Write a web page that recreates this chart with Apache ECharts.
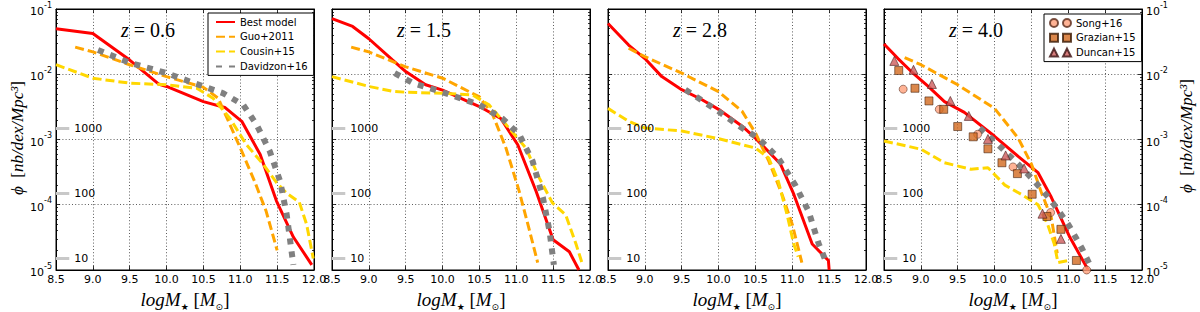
<!DOCTYPE html>
<html><head><meta charset="utf-8">
<script src="https://cdn.jsdelivr.net/npm/echarts@6/dist/echarts.min.js"></script>
<style>html,body{margin:0;padding:0;background:#fff}#c{width:1200px;height:312px}</style>
</head><body><div id="c"></div>
<script>
// ---------- tick labels / categories ----------
const panelTitles = ['0.6', '1.5', '2.8', '4.0'];
const xMin = 8.5, xMax = 12.0, xStep = 0.5;
const yMin = 1e-5, yMax = 1e-1;
const countLabels = ['1000', '100', '10'];
const countPhi = [1.5e-3, 1.5e-4, 1.5e-5];
const countLineX = [8.5, 8.68];

// ---------- z = 0.6 ----------
const best_z06 = [[8.5,5.0e-2],[9.0,4.2e-2],[9.5,1.65e-2],[9.89,7.1e-3],[10.0,6.5e-3],[10.5,3.8e-3],[10.79,3.1e-3],[11.02,1.9e-3],[11.27,5.9e-4],[11.49,1.15e-4],[11.72,3.2e-5],[11.97,1.2e-5]];
const guo_z06 = [[8.76,2.6e-2],[9.0,2.2e-2],[9.5,1.4e-2],[10.0,9.2e-3],[10.5,6.3e-3],[10.7,4.3e-3],[10.88,1.5e-3],[11.02,6.6e-4],[11.2,2.2e-4],[11.35,8.0e-5],[11.5,2.0e-5]];
const cousin_z06 = [[8.5,1.4e-2],[9.0,8.7e-3],[9.5,7.3e-3],[10.0,6.9e-3],[10.41,6.1e-3],[10.63,4.3e-3],[10.86,2.1e-3],[11.08,8.4e-4],[11.31,4.2e-4],[11.49,2.2e-4],[11.63,1.5e-4],[11.8,1.1e-4],[11.9,5.0e-5],[11.99,1.5e-5]];
const davidzon_z06 = [[9.07,2.35e-2],[9.5,1.5e-2],[10.0,1.04e-2],[10.5,6.5e-3],[10.77,5.1e-3],[11.04,3.4e-3],[11.22,1.7e-3],[11.4,6.6e-4],[11.54,2.3e-4],[11.63,7.0e-5],[11.72,1.2e-5]];

// ---------- z = 1.5 ----------
const best_z15 = [[8.5,7.1e-2],[8.78,5.4e-2],[9.0,3.5e-2],[9.32,1.66e-2],[9.5,1.1e-2],[9.77,6.9e-3],[10.0,5.7e-3],[10.5,3.2e-3],[10.79,2.1e-3],[11.02,8.3e-4],[11.27,1.6e-4],[11.5,2.9e-5],[11.72,1.9e-5],[11.85,1.0e-5]];
const guo_z15 = [[8.76,2.6e-2],[9.0,2.2e-2],[9.5,1.3e-2],[10.0,8.7e-3],[10.5,4.5e-3],[10.68,2.4e-3],[10.86,7.4e-4],[11.04,1.6e-4],[11.18,4.0e-5],[11.29,1.3e-5]];
const cousin_z15 = [[8.5,9.2e-3],[9.0,6.5e-3],[9.32,5.5e-3],[9.5,5.3e-3],[10.0,5.1e-3],[10.41,4.8e-3],[10.63,3.4e-3],[10.86,1.7e-3],[11.13,7.4e-4],[11.31,2.6e-4],[11.49,1.07e-4],[11.67,7.0e-5],[11.81,2.5e-5],[11.9,1.2e-5]];
const davidzon_z15 = [[9.35,1.04e-2],[9.6,7.3e-3],[10.0,5.3e-3],[10.5,3.4e-3],[10.81,2.1e-3],[11.04,1.2e-3],[11.22,4.7e-4],[11.36,1.3e-4],[11.45,4.0e-5],[11.51,1.2e-5]];

// ---------- z = 2.8 ----------
const best_z28 = [[8.5,6.0e-2],[8.78,2.8e-2],[9.0,1.74e-2],[9.23,9.2e-3],[9.5,5.8e-3],[9.77,4.1e-3],[10.0,2.9e-3],[10.32,1.6e-3],[10.5,1.05e-3],[10.84,4.2e-4],[11.02,1.45e-4],[11.27,2.5e-5],[11.49,1.4e-5],[11.5,1.0e-5]];
const guo_z28 = [[8.78,2.5e-2],[9.0,1.86e-2],[9.5,1.04e-2],[10.0,5.4e-3],[10.32,2.7e-3],[10.5,1.26e-3],[10.68,4.7e-4],[10.86,1.45e-4],[11.0,5.0e-5],[11.13,1.3e-5]];
const cousin_z28 = [[8.5,3.0e-3],[8.78,1.9e-3],[9.0,1.5e-3],[9.5,1.35e-3],[10.0,1.03e-3],[10.5,7.4e-4],[10.68,5.2e-4],[10.81,2.3e-4],[10.93,7.0e-5],[11.02,2.5e-5],[11.08,1.6e-5]];
const davidzon_z28 = [[9.55,5.8e-3],[10.0,2.7e-3],[10.32,1.5e-3],[10.54,1.05e-3],[10.81,5.2e-4],[11.04,2.0e-4],[11.22,8.0e-5],[11.36,2.5e-5],[11.45,1.4e-5]];

// ---------- z = 4.0 ----------
const best_z40 = [[8.5,2.9e-2],[8.69,1.74e-2],[8.87,1.1e-2],[9.1,6.5e-3],[9.32,3.8e-3],[9.59,2.6e-3],[10.0,1.12e-3],[10.32,5.5e-4],[10.59,3.1e-4],[10.77,1.3e-4],[11.02,3.2e-5],[11.27,1.0e-5]];
const guo_z40 = [[8.78,1.8e-2],[9.0,1.4e-2],[9.5,6.9e-3],[10.0,3.0e-3],[10.32,1.05e-3],[10.5,4.2e-4],[10.63,1.6e-4],[10.77,6.3e-5],[10.85,1.8e-5]];
const cousin_z40 = [[8.5,9.5e-4],[9.0,7.1e-4],[9.32,4.4e-4],[9.68,3.5e-4],[9.91,3.7e-4],[10.14,2.0e-4],[10.36,1.45e-4],[10.59,1.0e-4],[10.72,5.0e-5],[10.81,2.5e-5],[10.86,1.3e-5],[11.0,1.4e-5]];
const davidzon_z40 = [[9.8,1.5e-3],[10.05,8.3e-4],[10.32,4.2e-4],[10.54,2.3e-4],[10.77,1.15e-4],[11.0,5.0e-5],[11.18,2.2e-5],[11.31,1.1e-5]];
const song_z40 = [[8.76,5.9e-3],[9.25,2.9e-3],[9.77,1.2e-3],[10.25,3.8e-4],[10.76,7.6e-5],[11.25,1.0e-5]];
const grazian_z40 = [[8.70,1.14e-2],[8.92,6.1e-3],[9.11,3.9e-3],[9.31,2.9e-3],[9.5,1.58e-3],[9.71,1.1e-3],[9.91,7.2e-4],[10.1,4.4e-4],[10.31,3.0e-4],[10.51,1.45e-4],[10.71,6.6e-5],[10.9,4.2e-5],[11.11,1.4e-5]];
const duncan_z40 = [[8.64,1.6e-2],[8.9,1.17e-2],[9.15,7.1e-3],[9.4,3.9e-3],[9.65,2.3e-3],[9.91,1.02e-3],[10.15,5.7e-4],[10.4,3.6e-4],[10.65,7.3e-5],[10.9,3.0e-5]];

// ---------- build ----------
const panels = [
  {best: best_z06, guo: guo_z06, cousin: cousin_z06, dav: davidzon_z06},
  {best: best_z15, guo: guo_z15, cousin: cousin_z15, dav: davidzon_z15},
  {best: best_z28, guo: guo_z28, cousin: cousin_z28, dav: davidzon_z28},
  {best: best_z40, guo: guo_z40, cousin: cousin_z40, dav: davidzon_z40}
];
const gLeft = [56, 332, 608, 884];
const gTop = 9, gW = 258, gH = 261;

const SANS = 'DejaVu Sans';
const SERIF = 'Liberation Serif';
const minorVals = [];
for (let e = -5; e <= -2; e++) for (let m = 2; m <= 9; m++) minorVals.push(m * Math.pow(10, e));

const grids = [], xAxes = [], yAxes = [], series = [], graphics = [];
const gridLine = {show: true, lineStyle: {color: '#333', width: 0.8, type: [1, 2.2]}};
const yLabelRich = {
  b: {fontSize: 11, fontFamily: SANS, color: '#000', lineHeight: 16, verticalAlign: 'bottom'},
  s: {fontSize: 8, fontFamily: SANS, color: '#000', lineHeight: 16, verticalAlign: 'top'}
};
const yFmt = v => '{b|10}{s|' + Math.round(Math.log10(v)) + '}';

for (let i = 0; i < 4; i++) {
  grids.push({left: gLeft[i], top: gTop, width: gW, height: gH, show: true, borderColor: '#000', borderWidth: 1, backgroundColor: '#fff', outerBoundsMode: 'none', containLabel: false});
  xAxes.push({gridIndex: i, type: 'value', position: 'bottom', min: xMin, max: xMax, interval: xStep,
    axisLine: {show: true, lineStyle: {color: '#000', width: 1}},
    axisTick: {show: true, inside: true, length: 4, lineStyle: {color: '#000', width: 0.8}},
    axisLabel: {show: true, margin: 4, color: '#000', fontSize: 11, fontFamily: SANS, formatter: v => v.toFixed(1), showMinLabel: true, showMaxLabel: true, hideOverlap: false},
    splitLine: gridLine});
  xAxes.push({gridIndex: i, type: 'value', position: 'top', min: xMin, max: xMax, interval: xStep,
    axisLine: {show: true, lineStyle: {color: '#000', width: 1}},
    axisTick: {show: true, inside: true, length: 4, lineStyle: {color: '#000', width: 0.8}},
    axisLabel: {show: false}, splitLine: {show: false}});
  yAxes.push({gridIndex: i, type: 'log', logBase: 10, position: 'left', min: yMin, max: yMax,
    axisLine: {show: true, lineStyle: {color: '#000', width: 1}},
    axisTick: {show: true, inside: true, length: 4, lineStyle: {color: '#000', width: 0.8}},
    axisLabel: {show: i === 0, margin: 4, formatter: yFmt, rich: yLabelRich},
    splitLine: gridLine});
  yAxes.push({gridIndex: i, type: 'log', logBase: 10, position: 'right', min: yMin, max: yMax,
    axisLine: {show: true, lineStyle: {color: '#000', width: 1}},
    axisTick: {show: true, inside: true, length: 4, lineStyle: {color: '#000', width: 0.8}},
    axisLabel: {show: i === 3, margin: 4, formatter: yFmt, rich: yLabelRich},
    splitLine: {show: false}});
  ['left', 'right'].forEach(pos => {
    yAxes.push({gridIndex: i, type: 'log', logBase: 10, position: pos, min: yMin, max: yMax,
      axisLine: {show: false},
      axisTick: {show: true, inside: true, length: 2, customValues: minorVals, lineStyle: {color: '#000', width: 0.8}},
      axisLabel: {show: false}, splitLine: {show: false}});
  });

  const P = panels[i];
  const xi = 2 * i, yi = 4 * i;
  series.push({type: 'line', name: 'Best model', xAxisIndex: xi, yAxisIndex: yi, data: P.best, symbol: 'none',
    lineStyle: {color: '#ff0000', width: 3}, itemStyle: {color: '#ff0000'}});
  series.push({type: 'line', name: 'Guo+2011', xAxisIndex: xi, yAxisIndex: yi, data: P.guo, symbol: 'none',
    lineStyle: {color: '#ffa500', width: 3, type: [9, 4]}, itemStyle: {color: '#ffa500'}});
  series.push({type: 'line', name: 'Cousin+15', xAxisIndex: xi, yAxisIndex: yi, data: P.cousin, symbol: 'none',
    lineStyle: {color: '#ffd700', width: 3, type: [9, 4]}, itemStyle: {color: '#ffd700'}});
  series.push({type: 'line', name: 'Davidzon+16', xAxisIndex: xi, yAxisIndex: yi, data: P.dav, symbol: 'none',
    lineStyle: {color: '#808080', width: 6, type: [6, 7], cap: 'butt'}, itemStyle: {color: '#808080'}});
  series.push({type: 'line', name: 'counts' + i, xAxisIndex: xi, yAxisIndex: yi, data: [], silent: true,
    markLine: {silent: true, symbol: ['none', 'none'],
      lineStyle: {color: '#c8c8c8', width: 3, type: 'solid'},
      label: {show: true, position: 'end', distance: 5, color: '#000', fontSize: 11, fontFamily: SANS, formatter: p => p.name},
      emphasis: {disabled: true},
      data: countLabels.map((lab, k) => [{name: lab, coord: [countLineX[0], countPhi[k]]}, {coord: [countLineX[1], countPhi[k]]}])}});

  graphics.push({type: 'text', x: gLeft[i] + 92, y: 30, silent: true,
    style: {text: '{i|z}{n| = ' + panelTitles[i] + '}', align: 'center', verticalAlign: 'middle',
      rich: {i: {fontFamily: SERIF, fontStyle: 'italic', fontSize: 20, fill: '#000'}, n: {fontFamily: SERIF, fontSize: 20, fill: '#000'}}}});
  graphics.push({type: 'text', x: gLeft[i] + gW / 2, y: 299, silent: true,
    style: {text: '{i|logM}{s|★}{n| [}{i|M}{s|⊙}{n|]}', align: 'center', verticalAlign: 'middle',
      rich: {i: {fontFamily: SERIF, fontStyle: 'italic', fontSize: 19, lineHeight: 24, verticalAlign: 'middle', fill: '#000'},
             n: {fontFamily: SERIF, fontSize: 19, lineHeight: 24, verticalAlign: 'middle', fill: '#000'},
             s: {fontFamily: SANS, fontSize: 9, lineHeight: 24, verticalAlign: 'bottom', fill: '#000'}}}});
}

series.push({type: 'scatter', name: 'Song+16', xAxisIndex: 6, yAxisIndex: 12, data: song_z40, symbol: 'circle', symbolSize: 8,
  itemStyle: {color: '#ffa07a', borderColor: '#5a2a1a', borderWidth: 0.7}, z: 5});
series.push({type: 'scatter', name: 'Grazian+15', xAxisIndex: 6, yAxisIndex: 12, data: grazian_z40, symbol: 'rect', symbolSize: 8,
  itemStyle: {color: '#d2691e', borderColor: '#3a1a05', borderWidth: 0.7}, z: 5});
series.push({type: 'scatter', name: 'Duncan+15', xAxisIndex: 6, yAxisIndex: 12, data: duncan_z40, symbol: 'triangle', symbolSize: 9,
  itemStyle: {color: '#cd5c5c', borderColor: '#3a1010', borderWidth: 0.7}, z: 5});

const yTitleRich = {
  i: {fontFamily: SERIF, fontStyle: 'italic', fontSize: 17, fill: '#000'},
  n: {fontFamily: SERIF, fontSize: 17, fill: '#000'}
};
const yTitleText = '{i|ϕ}{n|  [}{i|nb/dex/Mpc³}{n|]}';
graphics.push({type: 'text', x: 17, y: 138, rotation: Math.PI / 2, silent: true,
  style: {text: yTitleText, align: 'center', verticalAlign: 'middle', rich: yTitleRich}});
graphics.push({type: 'text', x: 1186, y: 136, rotation: Math.PI / 2, silent: true,
  style: {text: yTitleText, align: 'center', verticalAlign: 'middle', rich: yTitleRich}});

const legendText = {color: '#000', fontSize: 10, fontFamily: SANS, lineHeight: 14};
const option = {
  animation: false,
  backgroundColor: '#fff',
  grid: grids, xAxis: xAxes, yAxis: yAxes, series: series, graphic: graphics,
  legend: [
    {show: true, orient: 'vertical', left: 208, top: 13, itemWidth: 19, itemHeight: 10, itemGap: 0.8,
     padding: [2, 6, 2, 7], borderColor: '#000', borderWidth: 1, backgroundColor: '#fff', borderRadius: 0,
     selectedMode: false, textStyle: legendText,
     itemStyle: {color: 'rgba(0,0,0,0)', borderWidth: 0, opacity: 0},
     data: ['Best model', 'Guo+2011', 'Cousin+15', 'Davidzon+16']},
    {show: true, orient: 'vertical', left: 1044, top: 14, itemWidth: 21, itemHeight: 8, itemGap: 0.8,
     padding: [2, 6, 2, 5], borderColor: '#000', borderWidth: 1, backgroundColor: '#fff', borderRadius: 0,
     selectedMode: false, textStyle: legendText,
     data: [
       {name: 'Song+16', icon: 'path://M0,4a4,4 0 1,0 8,0a4,4 0 1,0 -8,0zM13,4a4,4 0 1,0 8,0a4,4 0 1,0 -8,0z'},
       {name: 'Grazian+15', icon: 'path://M0,0h8v8h-8zM13,0h8v8h-8z'},
       {name: 'Duncan+15', icon: 'path://M4,0L8,8L0,8zM17,0L21,8L13,8z'}
     ]}
  ]
};
const chart = echarts.init(document.getElementById('c'), null, {renderer: 'svg'});
chart.setOption(option);
</script></body></html>
